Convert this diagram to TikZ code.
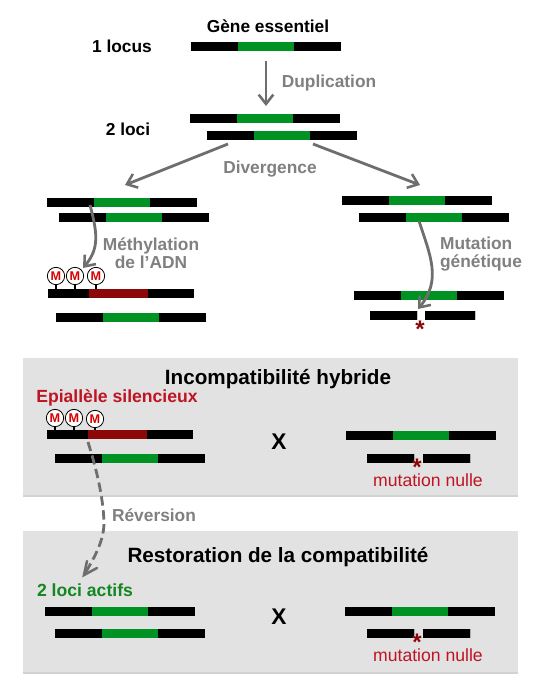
\documentclass[tikz,border=0pt]{standalone}
\usepackage{fontspec}
\setmainfont{Liberation Sans}
\usetikzlibrary{arrows.meta,shadows}
\definecolor{grn}{RGB}{0,146,34}
\definecolor{dred}{RGB}{140,8,8}
\definecolor{lab}{RGB}{128,128,128}
\definecolor{arr}{RGB}{110,110,110}
\definecolor{rtxt}{RGB}{190,20,35}
\definecolor{gtxt}{RGB}{20,135,35}
\definecolor{panel}{RGB}{226,226,226}
\tikzset{
  seg/.style={inner sep=0pt,outer sep=0pt,minimum height=6.75pt,anchor=west},
  labelg/.style={font=\bfseries\fontsize{13}{13.5}\selectfont,text=lab,align=center,inner sep=0pt},
  labelk/.style={font=\bfseries\fontsize{13}{15}\selectfont,text=black,inner sep=0pt},
  titlek/.style={font=\bfseries\fontsize{15.5}{17}\selectfont,text=black,inner sep=0pt},
  crossk/.style={font=\bfseries\fontsize{17}{19}\selectfont,text=black,inner sep=0pt},
  nulle/.style={font=\fontsize{13.2}{15}\selectfont,text=rtxt,inner sep=0pt},
  star/.style={font=\bfseries\fontsize{18}{18}\selectfont,text=dred,inner sep=0pt},
  mcirc/.style={circle,draw=black,fill=white,line width=.6pt,minimum size=13pt,inner sep=0pt,
    font=\bfseries\fontsize{9.5}{10}\selectfont,text=red!85!black},
  bigarrow/.style={draw=arr,line width=2.1pt,-{Straight Barb[length=7pt,width=11pt,line width=1.9pt]}},
  panelbox/.style={draw=none,fill=panel,inner sep=0pt,outer sep=0pt,anchor=north west,
    drop shadow={shadow xshift=0pt,shadow yshift=-1.5pt,opacity=.35}},
}
% \genebar{name}{x left}{y top}{colour}{left length}{middle length}{right length}
\newcommand{\genebar}[7]{%
  \node[seg,fill=black,minimum width=#5*.75pt] (#1l) at (#2,-#3-4.5) {};
  \node[seg,fill=#4,minimum width=#6*.75pt] (#1m) at (#2+#5,-#3-4.5) {};
  \node[seg,fill=black,minimum width=#7*.75pt] (#1r) at (#2+#5+#6,-#3-4.5) {};
}
% \methyl{name}{x}{y of circle}{y of bar top}
\newcommand{\methyl}[4]{%
  \node[mcirc] (#1) at (#2,-#3) {M};
  \coordinate (#1b) at (#2,-#4);
  \draw[line width=1.4pt] (#1) -- (#1b);
}
\begin{document}
\begin{tikzpicture}[x=.75pt,y=.75pt]
\useasboundingbox (0,0) rectangle (540,-693);
\fill[white] (0,0) rectangle (540,-693);
% panels
\node[panelbox,minimum width=495*.75pt,minimum height=137*.75pt] (p1) at (23,-358) {};
\node[panelbox,minimum width=495*.75pt,minimum height=141*.75pt] (p2) at (23,-531) {};
% top
\node[labelk] (tgene) at (268,-26) {Gène essentiel};
\node[labelk] (tl1) at (122,-46) {1 locus};
\node[labelk] (tl2) at (128,-129) {2 loci};
\genebar{a}{191}{42}{grn}{47}{56}{47}
\genebar{b}{190}{114}{grn}{47}{56}{47}
\genebar{c}{207}{131}{grn}{47}{56}{47}
\node[labelg] (tdup) at (329,-83) {Duplication};
\node[labelg] (tdiv) at (270,-169) {Divergence};
\coordinate (d1) at (266,-61); \coordinate (d2) at (266,-106);
\draw[bigarrow] (d1) -- (d2);
\coordinate (e0) at (228,-144); \coordinate (e1) at (125,-185);
\coordinate (f0) at (313,-144); \coordinate (f1) at (420,-185);
\draw[bigarrow] (e0) -- (e1);
\draw[bigarrow] (f0) -- (f1);
% left branch
\genebar{g}{47}{197.5}{grn}{47}{56}{47}
\genebar{h}{59}{213}{grn}{47}{56}{47}
\genebar{i}{48}{289}{dred}{41}{59}{46}
\genebar{j}{56}{313}{grn}{47}{56}{47}
\methyl{m1}{56}{276}{289}\methyl{m2}{75}{276}{289}\methyl{m3}{96}{276}{289}
\node[labelg] (tmeth) at (151,-253) {Méthylation\\de l\char"27 ADN};
\coordinate (k0) at (90,-205); \coordinate (k1) at (83,-268);
\draw[bigarrow] (k0) .. controls (97,-232) and (100,-248) .. (k1);
% right branch
\genebar{n}{342}{196}{grn}{47}{56}{47}
\genebar{o}{359}{213}{grn}{47}{56}{47}
\genebar{q}{353.5}{291}{grn}{47}{56}{47}
\genebar{r}{369.5}{310.5}{black}{47}{0}{0}
\genebar{s}{424.5}{310.5}{black}{50.5}{0}{0}
\node[labelg,align=left] (tmut) at (481,-254.5) {Mutation\\génétique};
\coordinate (t0) at (419,-221); \coordinate (t1) at (418,-309);
\draw[bigarrow] (t0) .. controls (430,-255) and (442,-280) .. (t1);
\node[star] (st1) at (420,-329) {*};
% panel 1
\node[titlek] (t1a) at (278,-379) {Incompatibilité hybride};
\node[font=\bfseries\fontsize{13.2}{15}\selectfont,text=rtxt,inner sep=0pt] (tepi) at (117,-398) {Epiallèle silencieux};
\genebar{u}{47}{430}{dred}{41}{59}{46}
\genebar{v}{55}{454}{grn}{47}{56}{47}
\methyl{n1}{55}{418}{430}\methyl{n2}{74}{418}{430}\methyl{n3}{95}{419}{430}
\node[crossk] (x1) at (279,-442) {X};
\genebar{w}{346}{431}{grn}{47}{56}{47}
\genebar{y}{367}{454}{black}{47}{0}{0}
\genebar{z}{423}{454}{black}{47}{0}{0}
\node[star] (st2) at (417,-467.5) {*};
\node[nulle] (nu1) at (428,-480) {mutation nulle};
% reversion
\node[labelg,font=\bfseries\fontsize{13}{14}\selectfont] (trev) at (154,-515) {Réversion};
\coordinate (r0) at (88,-442); \coordinate (r1) at (84,-575);
\draw[draw=arr,line width=2.1pt,dash pattern=on 7pt off 3.5pt] (r0) .. controls (96,-468) and (103,-495) .. (104,-522) .. controls (104,-540) and (96,-555) .. (r1);
\draw[draw=arr,line width=1.9pt,line cap=round] (87,-561) -- (r1) -- (97,-568);
% panel 2
\node[titlek] (t2a) at (278,-557) {Restoration de la compatibilité};
\node[font=\bfseries\fontsize{13.2}{15}\selectfont,text=gtxt,inner sep=0pt] (tact) at (85,-590) {2 loci actifs};
\genebar{aa}{45}{607}{grn}{47}{56}{47}
\genebar{ab}{55}{629}{grn}{47}{56}{47}
\node[crossk] (x2) at (279,-617) {X};
\genebar{ac}{345}{607}{grn}{47}{56}{47}
\genebar{ad}{367}{629}{black}{47}{0}{0}
\genebar{ae}{423}{629}{black}{47}{0}{0}
\node[star] (st3) at (417,-642.5) {*};
\node[nulle] (nu2) at (428,-655) {mutation nulle};
\end{tikzpicture}
\end{document}
